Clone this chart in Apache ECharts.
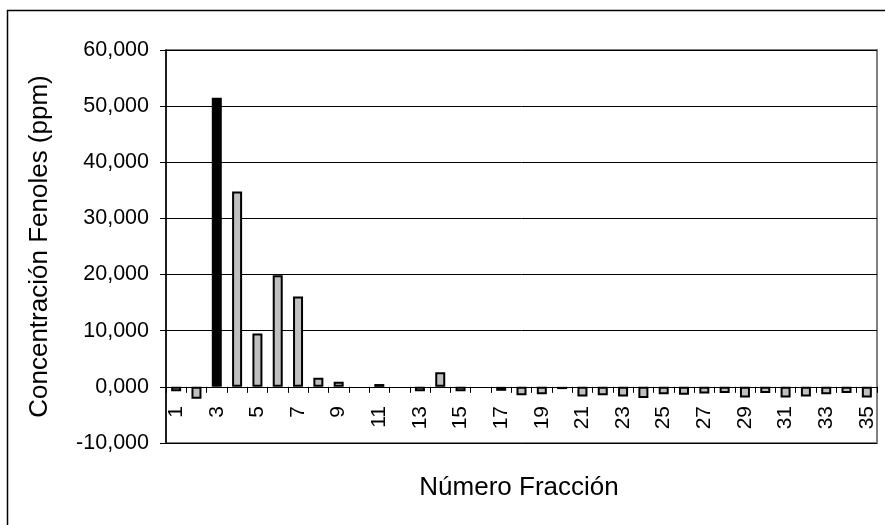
<!DOCTYPE html>
<html>
<head>
<meta charset="utf-8">
<script src="https://cdn.jsdelivr.net/npm/echarts@6/dist/echarts.min.js"></script>
<style>
html,body{margin:0;padding:0;background:#fff;}
#chart{width:885px;height:525px;}
</style>
</head>
<body>
<div id="chart"></div>
<script>
var categories = ['1','2','3','4','5','6','7','8','9','10','11','12','13','14','15','16','17','18','19','20','21','22','23','24','25','26','27','28','29','30','31','32','33','34','35'];
var values = [-0.8, -2.1, 51.5, 34.8, 9.5, 19.9, 16.1, 1.6, 0.9, null, 0.5, null, -0.8, 2.6, -0.8, null, -0.7, -1.5, -1.3, -0.4, -1.7, -1.5, -1.7, -2.0, -1.3, -1.4, -1.2, -1.1, -1.9, -1.1, -1.9, -1.7, -1.3, -1.1, -1.9];
var highlightIndex = 2;
var yTicks = {min: -10, max: 60, interval: 10};
var xTitle = 'Número Fracción';
var yTitle = 'Concentración Fenoles (ppm)';

var font = '"Liberation Sans", Arial, sans-serif';
var chart = echarts.init(document.getElementById('chart'), null, {renderer: 'canvas'});
var data = values.map(function (v, i) {
  if (v === null) return '-';
  return {
    value: v,
    itemStyle: i === highlightIndex ? {color: '#000000', borderColor: '#000000'} : {}
  };
});
chart.setOption({
  animation: false,
  backgroundColor: '#ffffff',
  graphic: [{
    type: 'rect',
    shape: {x: 7.5, y: 10.5, width: 900, height: 600},
    style: {fill: 'none', stroke: '#000000', lineWidth: 1.5},
    silent: true
  }, {
    type: 'text',
    x: 519, y: 488,
    style: {text: xTitle, font: '26px "Liberation Sans", Arial, sans-serif', fill: '#000', textAlign: 'center', textVerticalAlign: 'middle'},
    silent: true
  }],
  grid: {
    left: 166, right: 8, top: 50, bottom: 82,
    outerBoundsMode: 'none',
    containLabel: false,
    show: true, borderColor: '#808080', borderWidth: 2, backgroundColor: 'transparent'
  },
  xAxis: {
    type: 'category',
    data: categories,
    axisLine: {onZero: true, lineStyle: {color: '#000', width: 1}},
    axisTick: {show: true, alignWithLabel: false, interval: 0, length: 6, lineStyle: {color: '#000'}},
    axisLabel: {interval: 1, rotate: 90, margin: -37, fontFamily: font, fontSize: 21, color: '#000'},
    splitLine: {show: false}
  },
  yAxis: {
    type: 'value',
    min: yTicks.min, max: yTicks.max, interval: yTicks.interval,
    name: yTitle,
    nameLocation: 'middle',
    nameGap: 113,
    nameTextStyle: {fontFamily: font, fontSize: 26, color: '#000'},
    axisLine: {show: true, lineStyle: {color: '#000', width: 1.5}},
    axisTick: {show: true, length: 6, lineStyle: {color: '#000'}},
    axisLabel: {
      margin: 17, fontFamily: font, fontSize: 21.5, color: '#000',
      formatter: function (v) { return v.toFixed(3).replace('.', ','); }
    },
    splitLine: {show: true, lineStyle: {color: '#000', width: 1}}
  },
  series: [{
    type: 'bar',
    data: data,
    barWidth: 10,
    itemStyle: {color: '#c0c0c0', borderColor: '#000000', borderWidth: 2},
    emphasis: {disabled: true}
  }]
});
</script>
</body>
</html>
